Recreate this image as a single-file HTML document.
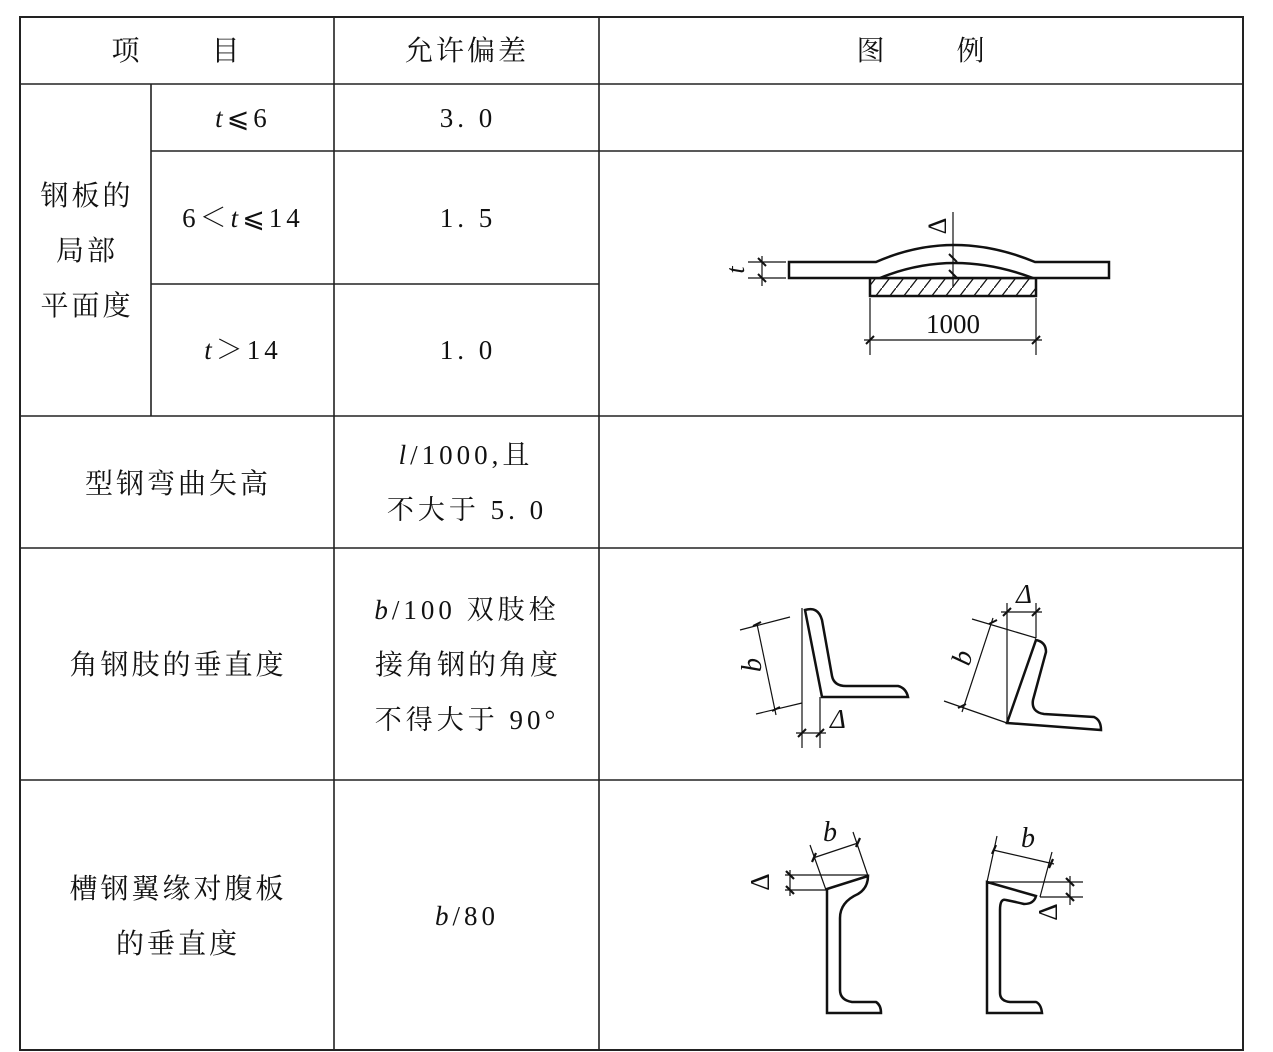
<!DOCTYPE html>
<html><head><meta charset="utf-8"><style>
html,body{margin:0;padding:0;background:#fff;width:1273px;height:1052px;overflow:hidden}
svg{display:block}
text{font-family:"Liberation Serif","Noto Serif CJK SC",serif;fill:#111}
.c{font-size:28px;text-anchor:middle;letter-spacing:3px}
.n{font-size:27px;text-anchor:middle;letter-spacing:4px}
.i{font-style:italic}
</style></head><body>
<svg width="1273" height="1052" viewBox="0 0 1273 1052" xmlns="http://www.w3.org/2000/svg">
<defs><pattern id="h" width="14" height="18" patternUnits="userSpaceOnUse"><path d="M0 18 L14 0" stroke="#111" stroke-width="1.3"/></pattern></defs>
<g stroke="#222" stroke-width="1.6" fill="none">
<rect x="20" y="17" width="1223" height="1033" stroke-width="2"/>
<line x1="20" y1="84" x2="1243" y2="84"/>
<line x1="20" y1="416" x2="1243" y2="416"/>
<line x1="20" y1="548" x2="1243" y2="548"/>
<line x1="20" y1="780" x2="1243" y2="780"/>
<line x1="151" y1="151" x2="1243" y2="151"/>
<line x1="151" y1="284" x2="599" y2="284"/>
<line x1="151" y1="84" x2="151" y2="416"/>
<line x1="334" y1="17" x2="334" y2="1050"/>
<line x1="599" y1="17" x2="599" y2="1050"/>
</g>
<text class="c" x="127" y="60">项</text><text class="c" x="227" y="60">目</text>
<text class="c" x="467" y="60">允许偏差</text>
<text class="c" x="872" y="60">图</text><text class="c" x="972" y="60">例</text>
<text class="n" x="243" y="127"><tspan class="i">t</tspan>⩽6</text>
<text class="n" x="468" y="127">3. 0</text>
<text class="n" x="243" y="227">6＜<tspan class="i">t</tspan>⩽14</text>
<text class="n" x="468" y="227">1. 5</text>
<text class="n" x="243" y="359"><tspan class="i">t</tspan>＞14</text>
<text class="n" x="468" y="359">1. 0</text>
<text class="c" x="87" y="205">钢板的</text>
<text class="c" x="87" y="260">局部</text>
<text class="c" x="87" y="315">平面度</text>
<text class="c" x="178" y="493">型钢弯曲矢高</text>
<text class="n" x="466" y="464"><tspan class="i">l</tspan>/1000,且</text>
<text class="n" x="467" y="519">不大于 5. 0</text>
<text class="c" x="178" y="674">角钢肢的垂直度</text>
<text class="n" x="467" y="619"><tspan class="i">b</tspan>/100 双肢栓</text>
<text class="c" x="468" y="674">接角钢的角度</text>
<text class="n" x="467" y="729">不得大于 90°</text>
<text class="c" x="178" y="898">槽钢翼缘对腹板</text>
<text class="c" x="178" y="953">的垂直度</text>
<text class="n" x="467" y="925"><tspan class="i">b</tspan>/80</text>

<!-- diagram 1 -->
<g stroke="#111" fill="none">
<rect x="870" y="278" width="166" height="18" fill="url(#h)" stroke-width="2.5"/>
<path d="M789 262 H876 Q953 228 1035 262 H1109 V278 H789 Z" stroke-width="2.5" fill="#fff"/>
<path d="M880 278 Q953 248 1033 278" stroke-width="2.5"/>
<g stroke-width="1.2">
<line x1="953" y1="212" x2="953" y2="286"/>
<line x1="748" y1="262" x2="786" y2="262"/><line x1="748" y1="278" x2="786" y2="278"/>
<line x1="762" y1="256" x2="762" y2="286"/>
<line x1="870" y1="298" x2="870" y2="355"/><line x1="1036" y1="298" x2="1036" y2="355"/>
<line x1="864" y1="340" x2="1042" y2="340"/>
</g>
<g stroke-width="2"><path d="M758 258 l8 8 M758 274 l8 8 M866 344 l8 -8 M1032 344 l8 -8 M949 254 l8 8 M949 270 l8 8"/></g>
</g>
<text x="953" y="333" font-size="27" text-anchor="middle">1000</text>
<text x="0" y="0" font-size="26" class="i" transform="translate(744,270) rotate(-90)" text-anchor="middle">t</text>
<text x="0" y="0" font-size="26" transform="translate(946,226) rotate(-90)" text-anchor="middle">Δ</text>

<!-- diagram 2 -->
<g stroke="#111" fill="none">
<path d="M805 610 Q818 606 822 620 L832 676 Q834 686 846 686 H898 Q906 688 908 697 H822 Z" stroke-width="2.5"/>
<g stroke-width="1.2">
<line x1="802" y1="608" x2="802" y2="748"/>
<line x1="820" y1="697" x2="820" y2="748"/>
<line x1="796" y1="733" x2="826" y2="733"/>
<line x1="740" y1="630" x2="790" y2="617"/>
<line x1="756" y1="714" x2="802" y2="703"/>
<line x1="757" y1="624" x2="776" y2="715"/>
<line x1="1007" y1="603" x2="1007" y2="723"/>
<line x1="1036" y1="603" x2="1036" y2="638"/>
<line x1="1001" y1="612" x2="1042" y2="612"/>
<line x1="972" y1="619" x2="1036" y2="638"/>
<line x1="944" y1="701" x2="1007" y2="723"/>
<line x1="993" y1="618" x2="962" y2="712"/>
</g>
<path d="M1007 723 L1036 640 Q1046 642 1046 652 L1033 700 Q1031 712 1044 714 L1094 717 Q1101 720 1101 730 Z" stroke-width="2.5"/>
<g stroke-width="2"><path d="M798 737 l8 -8 M816 737 l8 -8 M753 626 l8 -4 M772 711 l8 -4 M1003 616 l8 -8 M1032 616 l8 -8 M989 624 l8 -4 M958 708 l8 -4"/></g>
</g>
<text x="830" y="728" font-size="27" class="i">Δ</text>
<text x="1024" y="603" font-size="27" class="i" text-anchor="middle">Δ</text>
<text x="0" y="0" font-size="28" class="i" transform="translate(761,665) rotate(-90)" text-anchor="middle">b</text>
<text x="0" y="0" font-size="28" class="i" transform="translate(971,660) rotate(-75)" text-anchor="middle">b</text>

<!-- diagram 3 -->
<g stroke="#111" fill="none">
<path d="M827 889 L868 876 Q868 888 858 894 Q840 902 840 918 V990 Q840 1000 852 1002 H876 Q881 1005 881 1013 H827 Z" stroke-width="2.5"/>
<g stroke-width="1.2">
<line x1="785" y1="875" x2="868" y2="875"/>
<line x1="785" y1="890" x2="827" y2="890"/>
<line x1="790" y1="870" x2="790" y2="896"/>
<line x1="810" y1="845" x2="826" y2="890"/>
<line x1="853" y1="832" x2="868" y2="876"/>
<line x1="813" y1="858" x2="858" y2="843"/>
<line x1="987" y1="882" x2="1083" y2="882"/>
<line x1="1040" y1="897" x2="1083" y2="897"/>
<line x1="1070" y1="876" x2="1070" y2="905"/>
<line x1="997" y1="836" x2="987" y2="882"/>
<line x1="1052" y1="852" x2="1040" y2="897"/>
<line x1="993" y1="850" x2="1054" y2="864"/>
</g>
<path d="M987 882 L1036 896 Q1034 904 1024 904 Q1016 902 1006 900 Q1000 898 1000 910 V993 Q1000 1001 1010 1002 H1036 Q1041 1004 1042 1013 H987 Z" stroke-width="2.5"/>
<g stroke-width="2.2"><path d="M786 871 l8 8 M786 886 l8 8 M1066 878 l8 8 M1066 893 l8 8 M812 862 l4 -9 M856 847 l4 -9 M992 854 l4 -9 M1049 868 l4 -9"/></g>
</g>
<text x="830" y="841" font-size="28" class="i" text-anchor="middle">b</text>
<text x="1028" y="847" font-size="28" class="i" text-anchor="middle">b</text>
<text x="0" y="0" font-size="27" transform="translate(769,882) rotate(-90)" text-anchor="middle">Δ</text>
<text x="0" y="0" font-size="27" transform="translate(1057,912) rotate(-90)" text-anchor="middle">Δ</text>
</svg>
</body></html>
